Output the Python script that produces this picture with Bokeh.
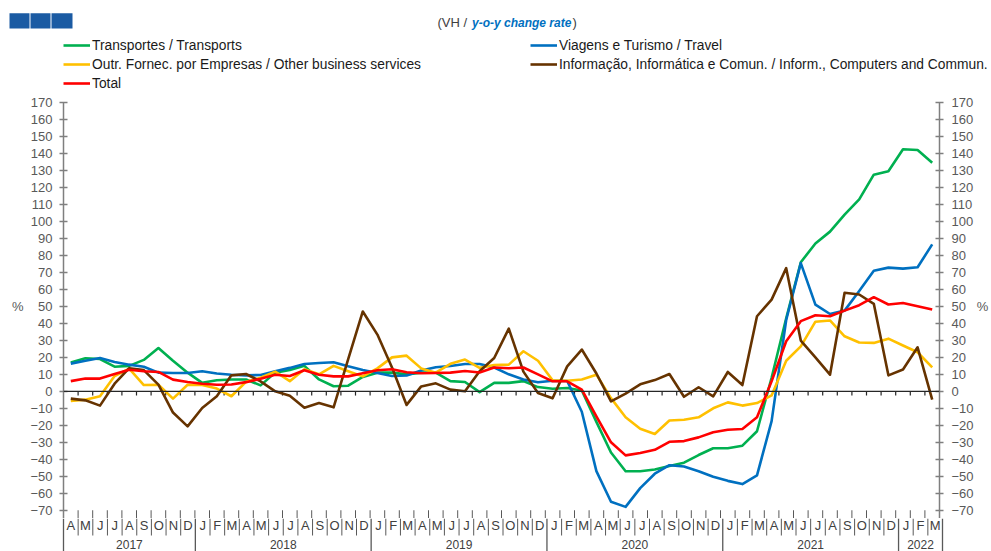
import numpy as np
from bokeh.plotting import figure
from bokeh.layouts import column
from bokeh.models import (Range1d, LinearAxis, FixedTicker, Span, Legend, LegendItem)
from bokeh.core.properties import value
from bokeh.embed import file_html
from bokeh.resources import INLINE

# ---------------- data ----------------
months = (["A", "M", "J", "J", "A", "S", "O", "N", "D"]
          + ["J", "F", "M", "A", "M", "J", "J", "A", "S", "O", "N", "D"] * 4
          + ["J", "F", "M"])
years = ["2017", "2018", "2019", "2020", "2021", "2022"]
year_lengths = [9, 12, 12, 12, 12, 3]

transportes = [17, 19.5, 19, 14.5, 15, 18.5, 25.5, 18, 11, 5,
               6.5, 7, 7, 3.5, 11, 12.5, 15, 7, 3, 3.3,
               8.5, 11, 11, 10, 11, 11, 6, 5.5, -0.5, 5,
               5, 6, 2.5, 1.5, 2, 0.5, -18, -36, -47, -47,
               -46, -44, -42, -37.5, -33.5, -33.5, -32, -23.5, 8, 43,
               76, 87, 94, 104, 113, 127.5, 129.5, 142.5, 142, 134.5]
viagens = [16.3, 18, 19.6, 17.3, 15.7, 14.5, 11, 10.8, 10.8, 11.8,
           10.5, 9.8, 9.4, 9.6, 11.8, 13.8, 16.1, 16.7, 17.1, 14.7,
           12.6, 10.8, 9, 9.3, 12.3, 14.2, 14.9, 16.1, 16.1, 14,
           10, 7, 5.3, 6.2, 6.1, -12, -47, -65, -68, -57,
           -48.5, -43.5, -44.2, -47, -50.3, -52.7, -54.6, -49.5, -17.5, 42,
           75.5, 51, 45.5, 47.5, 59, 71, 72.8, 72.2, 73, 86.5]
outros = [-5.7, -4.9, -2.9, 9, 13.3, 3.7, 3.9, -4.3, 3.9, 3.7,
          1.6, -2.9, 5.6, 8, 11.6, 6, 13, 10, 15, 11.8,
          8.8, 13.5, 20, 21, 13.5, 11, 16.2, 18.7, 13.8, 15.5,
          15.7, 23.6, 18, 6.5, 6.2, 7, 9.8, -4, -15.3, -22,
          -25.1, -17.2, -16.7, -15.3, -10, -6.5, -8.4, -6.9, -2.4, 18,
          26.5, 41, 41.7, 32.4, 28.7, 28.5, 31, 27, 23, 14.1]
informacao = [-4.3, -5.3, -8.4, 4.5, 13.6, 12.5, 3.9, -12.5, -20.6, -9.8,
              -2.9, 9.4, 10.2, 5.9, 0, -2.6, -9.6, -6.9, -9.4, 19,
              47, 33.4, 14, -8, 2.9, 4.7, 1, 0, 11.8, 19.6,
              36.9, 11.6, -1, -4.1, 14.7, 24.6, 10.5, -5.9, -1.3, 4.1,
              6.6, 10.2, -3.2, 2.4, -3, 11.4, 3.7, 44.2, 54, 72.5,
              29.9, 20, 9.8, 58, 57, 51.5, 9.4, 12.8, 25.9, -4.9]
total = [6, 7.5, 7.5, 10.2, 12.7, 11.8, 11.4, 6.9, 5.5, 4.5,
         3.9, 4, 5.4, 7.4, 9.8, 9, 12.4, 9.8, 8.8, 8.8,
         10.6, 12.4, 13, 11.2, 10.6, 10.8, 11, 12, 11.1, 14,
         13.6, 14, 10, 5.9, 5.9, 1, -14.7, -30, -37.7, -36.3,
         -34.4, -29.7, -29.3, -27.1, -24.1, -22.6, -22.2, -15.3, 5.9, 29.5,
         41.3, 44.8, 44.2, 47.5, 50.7, 55.4, 51.1, 52, 50.1, 48.1]

series_labels = ["Transportes / Transports",
                 "Viagens e Turismo / Travel",
                 "Outr. Fornec. por Empresas / Other business services",
                 "Informação, Informática e Comun. / Inform., Computers and Commun.",
                 "Total"]
series_values = [transportes, viagens, outros, informacao, total]
series_colors = ["#00B050", "#0070C0", "#FFC000", "#663300", "#FF0000"]

y_ticks = list(range(-70, 171, 10))
unit_tick = 50
NB = "\u00a0"
left_overrides = {unit_tick: "%" + NB * 4 + str(unit_tick)}
right_overrides = {unit_tick: str(unit_tick) + NB * 3 + "%"}

# ---------------- geometry ----------------
FONT = "Liberation Sans"
W = 991
HEAD_H = 94
MAIN_H = 424
FOOT_H = 551 - HEAD_H - MAIN_H
LEFT, RIGHT, TOP = 63, 49, 8
PX_PER_UNIT = 1.699
n = len(months)
px_per_month = (W - LEFT - RIGHT) / n
y_bottom = 170 - (MAIN_H - TOP) / PX_PER_UNIT
AXIS_GRAY = "#7f7f7f"
TEXT_GRAY = "#404040"


def bare(height, xr, yr):
    f = figure(width=W, height=height, output_backend="svg", toolbar_location=None,
               x_range=xr, y_range=yr, x_axis_type=None, y_axis_type=None,
               min_border_left=0, min_border_right=0, min_border_top=0,
               min_border_bottom=0)
    f.frame_align = False
    f.outline_line_color = None
    f.grid.visible = False
    return f


# ---------------- header ----------------
head = bare(HEAD_H, Range1d(0, W), Range1d(HEAD_H, 0))
head.quad(left=[9, 30, 51], right=[29, 50, 72], top=[12.7] * 3, bottom=[28] * 3,
          fill_color="#1B5BA3", line_color=None)
head.text(x=[437], y=[22], text=["(VH / "], text_font=value(FONT), text_font_size="13px",
          text_baseline="middle", text_color=TEXT_GRAY)
head.text(x=[471.5], y=[22], text=["y-o-y change rate"], text_font=value(FONT),
          text_font_size="12px", text_font_style="bold italic",
          text_baseline="middle", text_color="#0070C0")
head.text(x=[572], y=[22], text=[")"], text_font=value(FONT), text_font_size="13px",
          text_baseline="middle", text_color=TEXT_GRAY)

items = []
for lab, col in zip(series_labels, series_colors):
    r = head.line(x=[np.nan, np.nan], y=[np.nan, np.nan], line_color=col, line_width=2.6)
    items.append(LegendItem(label=lab, renderers=[r]))
legend = Legend(items=items, location=(63, 2), orientation="horizontal", ncols=2,
                glyph_width=27, glyph_height=18, label_height=18, label_width=437,
                label_standoff=2, spacing=1, padding=0, margin=0,
                border_line_color=None, background_fill_alpha=0,
                label_text_font=FONT, label_text_font_size="13.8px",
                label_text_color="#1a1a1a")
head.add_layout(legend, "center")

# ---------------- main plot ----------------
p = figure(width=W, height=MAIN_H, output_backend="svg", toolbar_location=None,
           x_range=Range1d(0, n), y_range=Range1d(y_bottom, 170),
           x_axis_type=None, y_axis_type=None,
           min_border_left=LEFT, min_border_right=RIGHT,
           min_border_top=TOP, min_border_bottom=0)
p.frame_align = False
p.outline_line_color = None

for side, standoff, overrides in (("left", 7, left_overrides), ("right", 8, right_overrides)):
    ax = LinearAxis(ticker=FixedTicker(ticks=y_ticks))
    ax.axis_line_color = AXIS_GRAY
    ax.axis_line_width = 1.5
    ax.major_tick_line_color = AXIS_GRAY
    ax.major_tick_line_width = 1.3
    ax.major_tick_in = 4
    ax.major_tick_out = 4
    ax.minor_tick_line_color = None
    ax.major_label_standoff = standoff
    ax.major_label_text_font = FONT
    ax.major_label_text_font_size = "13px"
    ax.major_label_text_color = "#595959"
    ax.major_label_overrides = overrides
    p.add_layout(ax, side)

p.add_layout(Span(location=0, dimension="width", line_color="#262626", line_width=1.3))
bounds = np.arange(1, n)
p.segment(x0=bounds, y0=0, x1=bounds, y1=-2.5, line_color="#262626", line_width=1.2)
p.segment(x0=bounds, y0=-70, x1=bounds, y1=y_bottom, line_color="#595959", line_width=1)

xs = np.arange(n) + 0.5
for vals, col in zip(series_values, series_colors):
    p.line(xs, vals, line_color=col, line_width=2.6, line_join="round")

# ---------------- footer (months and years) ----------------
foot = bare(FOOT_H, Range1d(-LEFT / px_per_month, n + RIGHT / px_per_month),
            Range1d(FOOT_H, 0))
ystart = np.cumsum([0] + year_lengths)
year_bounds = set(ystart[1:-1].tolist())
short_b = [b for b in range(1, n) if b not in year_bounds]
long_b = [0] + sorted(year_bounds) + [n]
foot.segment(x0=short_b, y0=0, x1=short_b, y1=17, line_color="#595959", line_width=1)
foot.segment(x0=long_b, y0=0, x1=long_b, y1=FOOT_H, line_color="#595959", line_width=1.3)
foot.text(x=xs, y=[7] * n, text=months, text_align="center", text_baseline="middle",
          text_font=value(FONT), text_font_size="13px", text_color=TEXT_GRAY)
year_centers = [(ystart[i] + ystart[i + 1]) / 2 for i in range(len(years))]
foot.text(x=year_centers, y=[FOOT_H - 3] * len(years), text=years, text_align="center",
          text_baseline="bottom", text_font=value(FONT), text_font_size="12px",
          text_color=TEXT_GRAY)

layout = column(head, p, foot, spacing=0)
open("out.html", "w").write(file_html(layout, INLINE))
